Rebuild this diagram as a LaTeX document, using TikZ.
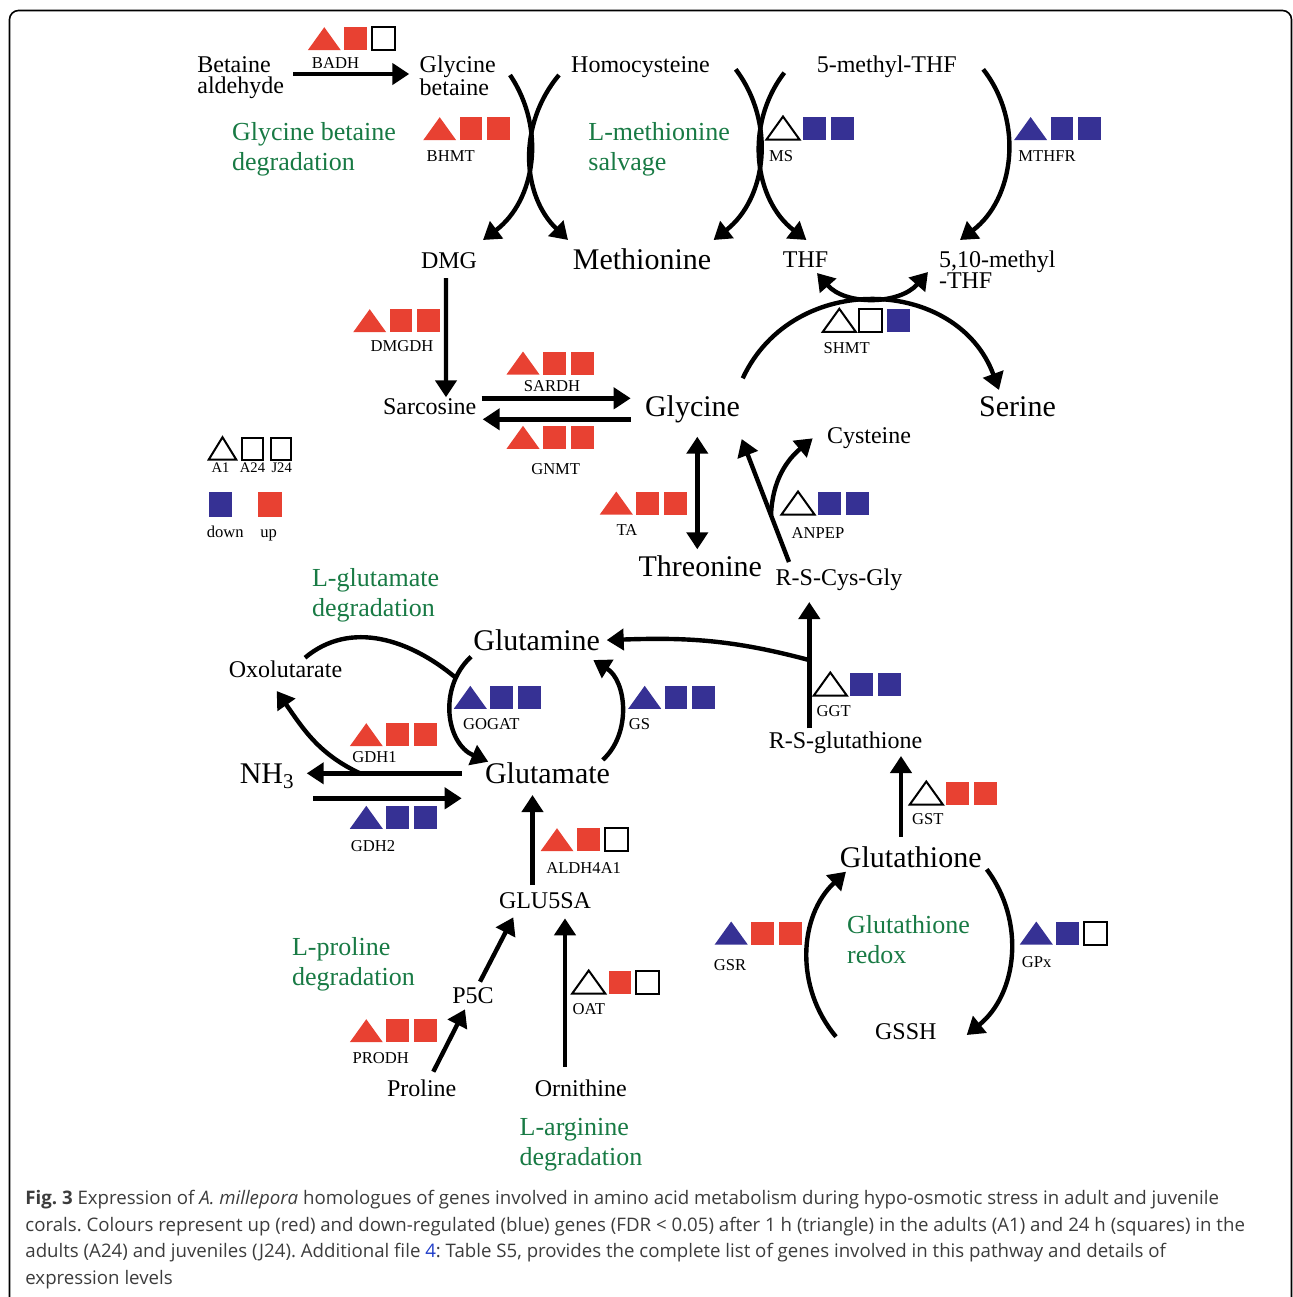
\documentclass[tikz,border=0pt]{standalone}
\usepackage{fontspec}
\setmainfont{Liberation Serif}
\newfontfamily\captionfont{Open Sans}
\usetikzlibrary{arrows.meta}
\frenchspacing

\definecolor{upred}{RGB}{232,65,50}
\definecolor{dnblue}{RGB}{54,49,148}
\definecolor{pwgreen}{RGB}{24,122,68}
\definecolor{capgray}{RGB}{60,60,60}
\definecolor{linkblue}{RGB}{30,60,200}

\tikzset{
  cmpd/.style={font=\fontsize{12}{10.5}\selectfont, inner sep=2pt, text height=7.9pt, text depth=0pt},
  cmpdtwo/.style={font=\fontsize{12}{10.5}\selectfont, inner sep=2pt, align=left, anchor=west},
  big/.style={font=\fontsize{15}{16}\selectfont, inner sep=2pt, text height=9.9pt, text depth=0pt},
  pway/.style={font=\fontsize{13}{15}\selectfont, text=pwgreen, inner sep=2pt, align=left, anchor=west},
  enz/.style={font=\fontsize{8.3}{9}\selectfont, inner sep=0pt, text height=5.5pt, text depth=0pt},
  keytext/.style={font=\fontsize{7.3}{8}\selectfont, inner sep=0pt, text height=4.8pt, text depth=0pt},
  rxn/.style={line width=2.2pt, -{Triangle[length=8.5pt,width=10.5pt]}},
  rxnboth/.style={line width=2.2pt, {Triangle[length=8.5pt,width=10.5pt]}-{Triangle[length=8.5pt,width=10.5pt]}},
  joinline/.style={line width=2.2pt},
  upreg/.style={fill=upred},
  dnreg/.style={fill=dnblue},
  nochg/.style={draw=black, line width=1pt, fill=white},
  capline/.style={font=\captionfont\fontsize{9.33}{11}\selectfont, text=capgray, anchor=base west, inner sep=0pt}
}

% triangle (A1), square (A24), square (J24)
\newcommand{\expr}[5]{%
  \begin{scope}[shift={(#1,#2)}]
    \path[#3] (0.5,-0.5) -- (33.5,-0.5) -- (17,-23.5) -- cycle;
    \path[#4] (37,-0.5) rectangle (59.5,-23.5);
    \path[#5] (64.5,-0.5) rectangle (87.5,-23.5);
  \end{scope}}

\begin{document}
\begin{tikzpicture}[x=0.5pt,y=-0.5pt]
\useasboundingbox (0,0) rectangle (1293,1297);
\draw[line width=0.8pt, rounded corners=4.5pt] (9.5,1330) |- (1291.5,10.5) -- (1291.5,1330);

% metabolites
\node[cmpdtwo] (betald) at (193,78) {Betaine\\aldehyde};
\node[cmpdtwo] (glybet) at (415.3,75.7) {Glycine\\betaine};
\node[cmpd] (homocys) at (640.5,64.7) {Homocysteine};
\node[cmpd] (mthf5) at (886.8,64.7) {5-methyl-THF};
\node[cmpd] (dmg) at (449,260.4) {DMG};
\node[big] (methio) at (642,259.4) {Methionine};
\node[cmpd] (thf) at (805.5,259.1) {THF};
\node[cmpdtwo] (mthf510) at (934.6,269.3) {5,10-methyl\\-THF};
\node[cmpd] (sarc) at (429.7,407) {Sarcosine};
\node[big] (gly) at (692.5,407) {Glycine};
\node[big] (ser) at (1017.5,407) {Serine};
\node[cmpd] (cys) at (869,435.7) {Cysteine};
\node[big] (thr) at (700.3,566.1) {Threonine};
\node[cmpd] (rscg) at (839,577.4) {R-S-Cys-Gly};
\node[big] (glnm) at (536.7,640.1) {Glutamine};
\node[cmpd] (oxo) at (285.5,669.1) {Oxolutarate};
\node[big] (nh3) at (267.2,774) {NH\textsubscript{3}};
\node[big] (glutam) at (547.5,774) {Glutamate};
\node[cmpd] (rsg) at (845.5,740.7) {R-S-glutathione};
\node[big] (glut) at (910.8,857.4) {Glutathione};
\node[cmpd] (gssh) at (905.8,1031.7) {GSSH};
\node[cmpd] (glu5sa) at (545,900.7) {GLU5SA};
\node[cmpd] (p5c) at (473,995.1) {P5C};
\node[cmpd] (proline) at (421.7,1088.4) {Proline};
\node[cmpd] (orn) at (580.8,1088.4) {Ornithine};

% pathways
\node[pway] (pwbet) at (227.7,149) {Glycine betaine\\degradation};
\node[pway] (pwmet) at (584,149) {L-methionine\\salvage};
\node[pway] (pwglu) at (307.7,595.6) {L-glutamate\\degradation};
\node[pway] (pwpro) at (287.7,964) {L-proline\\degradation};
\node[pway] (pwarg) at (515.3,1145) {L-arginine\\degradation};
\node[pway] (pwgsh) at (842.7,939.4) {Glutathione\\redox};

% genes
\expr{307.3}{50.7}{upreg}{upreg}{nochg}
\node[enz] (badh) at (335.5,62.8) {BADH};
\expr{422.7}{140.7}{upreg}{upreg}{upreg}
\node[enz] (bhmt) at (450.7,156) {BHMT};
\expr{766}{140}{nochg}{dnreg}{dnreg}
\node[enz] (ms) at (781,156) {MS};
\expr{1013.6}{140.5}{dnreg}{dnreg}{dnreg}
\node[enz] (mthfr) at (1047,156) {MTHFR};
\expr{352.7}{332.7}{upreg}{upreg}{upreg}
\node[enz] (dmgdh) at (402,346) {DMGDH};
\expr{506}{375}{upreg}{upreg}{upreg}
\node[enz] (sardh) at (552,386) {SARDH};
\expr{506}{449.3}{upreg}{upreg}{upreg}
\node[enz] (gnmt) at (555.7,468.5) {GNMT};
\expr{822.3}{332.3}{nochg}{nochg}{dnreg}
\node[enz] (shmt) at (846.8,347.8) {SHMT};
\expr{599.3}{515}{upreg}{upreg}{upreg}
\node[enz] (ta) at (627,529.5) {TA};
\expr{781}{515}{nochg}{dnreg}{dnreg}
\node[enz] (anpep) at (818,532.8) {ANPEP};
\expr{453.3}{709.3}{dnreg}{dnreg}{dnreg}
\node[enz] (gogat) at (491.3,723.8) {GOGAT};
\expr{627.7}{709.3}{dnreg}{dnreg}{dnreg}
\node[enz] (gs) at (639.5,723.8) {GS};
\expr{813.3}{696}{nochg}{dnreg}{dnreg}
\node[enz] (ggt) at (833.7,710.5) {GGT};
\expr{349.3}{746.7}{upreg}{upreg}{upreg}
\node[enz] (gdh1) at (374.5,757.2) {GDH1};
\expr{349.3}{829.3}{dnreg}{dnreg}{dnreg}
\node[enz] (gdh2) at (373,845.5) {GDH2};
\expr{909.3}{805}{nochg}{upreg}{upreg}
\node[enz] (gst) at (927.8,818.5) {GST};
\expr{540}{851.7}{upreg}{upreg}{nochg}
\node[enz] (aldh) at (583.7,867.8) {ALDH4A1};
\expr{714.2}{945}{dnreg}{upreg}{upreg}
\node[enz] (gsr) at (730,965) {GSR};
\expr{1019.3}{945}{dnreg}{dnreg}{nochg}
\node[enz] (gpx) at (1036.7,962.2) {GPx};
\expr{571.7}{994}{nochg}{upreg}{nochg}
\node[enz] (oat) at (588.8,1008.5) {OAT};
\expr{349.3}{1042.7}{upreg}{upreg}{upreg}
\node[enz] (prodh) at (380.8,1057.8) {PRODH};

% key
\draw[nochg] (208.8,459.5) -- (236.2,459.5) -- (222.5,437.2) -- cycle;
\draw[nochg] (242.2,437.5) rectangle (263,459.5);
\draw[nochg] (270.5,437.5) rectangle (291.3,459.5);
\node[keytext] (keya1) at (220.5,468) {A1};
\node[keytext] (keya24) at (252.5,468) {A24};
\node[keytext] (keyj24) at (281.7,468) {J24};
\fill[dnblue] (209.3,492.3) rectangle (232.3,516.7);
\fill[upred] (257.7,492.3) rectangle (282.3,516.7);
\node[enz] (keydn) at (225.3,532) {down};
\node[enz] (keyup) at (268.7,532) {up};

% reactions
\draw[rxn] ([shift={(100.3,-4)}]betald.west) -- ([shift={(-6,-1.7)}]glybet.west);
\draw[rxn] ([shift={(94.7,-0.7)}]glybet.west) to[out=-56,in=37] ([shift={(34,-20.4)}]dmg.center);
\draw[rxn] ([shift={(-81.5,10.3)}]homocys.center) to[out=-130,in=136] ([shift={(-74,-19.4)}]methio.center);
\draw[rxn] ([shift={(95.2,4.6)}]homocys.center) to[out=-53,in=38] ([shift={(71.6,-19.4)}]methio.center);
\draw[rxn] ([shift={(-102.5,8)}]mthf5.center) to[out=-127.5,in=142.5] ([shift={(0.9,-19.1)}]thf.center);
\draw[rxn] ([shift={(96.4,4.6)}]mthf5.center) to[out=-52,in=37] ([shift={(25.4,-29.3)}]mthf510.west);
\draw[rxnboth] ([shift={(11.5,13.9)}]thf.center) to[out=-49,in=-131] ([shift={(-6.6,2.7)}]mthf510.west);
\draw[rxn] ([shift={(50.2,-28.7)}]gly.center) to[out=65,in=110,looseness=1.2] ([shift={(-18.5,-17)}]ser.center);
\draw[rxn] ([shift={(-3,17.6)}]dmg.center) -- ([shift={(16.3,-9.7)}]sarc.center);
\draw[rxn] ([shift={(52,-8.7)}]sarc.center) -- ([shift={(-61.8,-8.7)}]gly.center);
\draw[rxn] ([shift={(-61.8,12.3)}]gly.center) -- ([shift={(53,12.3)}]sarc.center);
\draw[rxnboth] ([shift={(4.8,29.7)}]gly.center) -- ([shift={(-3,-16.8)}]thr.center);
\draw[rxn] ([shift={(-50,-15.4)}]rscg.center) -- coordinate[pos=0.38] (anpepbr) ([shift={(49.2,32)}]gly.center);
\draw[rxn] (anpepbr) to[out=88,in=-140] ([shift={(-56.3,2.6)}]cys.center);
\draw[rxn] ([shift={(-36.2,-12.4)}]rsg.center) -- coordinate[pos=0.54] (ggtbr) ([shift={(-29.7,24.6)}]rscg.center);
\draw[rxn] (ggtbr) to[out=165,in=2] ([shift={(70,0)}]glnm.center);
\draw[rxn] ([shift={(-9.8,-20.7)}]glut.center) -- ([shift={(55.5,15.3)}]rsg.center);
\draw[rxn] ([shift={(-69.8,5)}]gssh.center) to[out=130,in=-137] ([shift={(-64.8,14.3)}]glut.center);
\draw[rxn] ([shift={(75.9,11.9)}]glut.center) to[out=-53,in=39] ([shift={(60.9,3.3)}]gssh.center);
\draw[rxn] ([shift={(-65.7,16.6)}]glnm.center) to[out=-137,in=157,looseness=1.1] coordinate[pos=0.2] (gogatbr) ([shift={(-59.2,-12.3)}]glutam.center);
\draw[joinline] ([shift={(19.5,-11.4)}]oxo.center) to[out=40,in=140] (gogatbr);
\draw[rxn] ([shift={(55.2,-14.1)}]glutam.center) to[out=42,in=-32] ([shift={(56.6,19.9)}]glnm.center);
\draw[rxn] ([shift={(-85.8,-0.7)}]glutam.center) -- coordinate[pos=0.656] (gdhbr) ([shift={(39.5,-0.7)}]nh3.center);
\draw[rxn] (gdhbr) to[out=155,in=-55] ([shift={(-8.8,21.9)}]oxo.center);
\draw[rxn] ([shift={(46.1,24.3)}]nh3.center) -- ([shift={(-85.8,24.3)}]glutam.center);
\draw[rxn] ([shift={(-12.5,-15.7)}]glu5sa.center) -- ([shift={(-15,21)}]glutam.center);
\draw[rxn] ([shift={(7,-13.4)}]p5c.center) -- ([shift={(-31.7,16.6)}]glu5sa.center);
\draw[rxn] ([shift={(11.6,-16.7)}]proline.center) -- ([shift={(-8,14.2)}]p5c.center);
\draw[rxn] ([shift={(-15.8,-21.7)}]orn.center) -- ([shift={(20,17.6)}]glu5sa.center);

% caption
\node[capline] (cap1) at (25,1204) {\textbf{Fig. 3} Expression of \textit{A. millepora} homologues of genes involved in amino acid metabolism during hypo-osmotic stress in adult and juvenile};
\node[capline] (cap2) at (25,1231) {corals. Colours represent up (red) and down-regulated (blue) genes (FDR < 0.05) after 1 h (triangle) in the adults (A1) and 24 h (squares) in the};
\node[capline] (cap3) at (25,1257) {adults (A24) and juveniles (J24). Additional file {\color{linkblue}4}: Table S5, provides the complete list of genes involved in this pathway and details of};
\node[capline] (cap4) at (25,1284) {expression levels};
\end{tikzpicture}
\end{document}
